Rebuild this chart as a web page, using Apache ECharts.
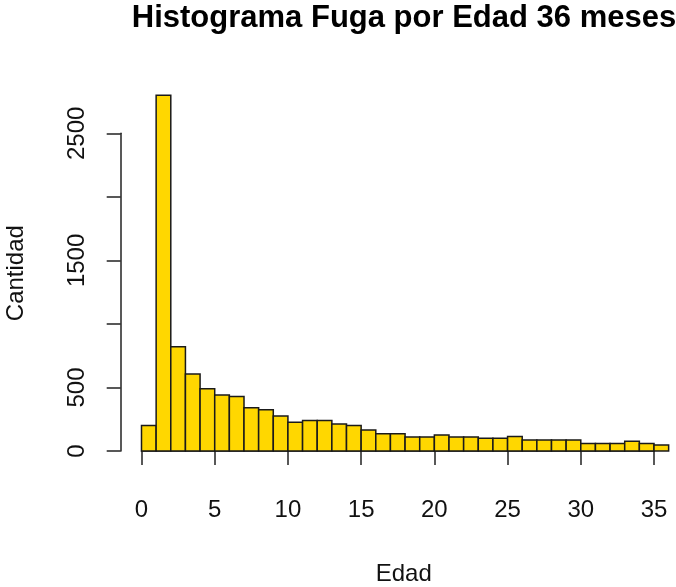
<!DOCTYPE html>
<html>
<head>
<meta charset="utf-8">
<script src="https://cdn.jsdelivr.net/npm/echarts@6/dist/echarts.min.js"></script>
<style>
  html, body { margin: 0; padding: 0; background: #fff; }
  #chart { width: 676px; height: 587px; }
</style>
</head>
<body>
<div id="chart"></div>
<script>
// bins de edad (meses), ancho 1
const binStart = [0, 1, 2, 3, 4, 5, 6, 7, 8, 9, 10, 11, 12, 13, 14, 15, 16, 17,
  18, 19, 20, 21, 22, 23, 24, 25, 26, 27, 28, 29, 30, 31, 32, 33, 34, 35]
const counts = [200, 2800, 820, 605, 490, 440, 428, 340, 325, 275, 226, 240, 240, 212,
  200, 165, 136, 136, 110, 110, 126, 110, 110, 100, 100, 115, 87, 87, 87, 87,
  60, 60, 60, 76, 60, 47]
const yTickLabels = ['0', '500', '1500', '2500']

const font = 'Liberation Sans, Arial, sans-serif'
const chart = echarts.init(document.getElementById('chart'))

chart.setOption({
  animation: false,
  title: {
    text: 'Histograma Fuga por Edad 36 meses',
    left: 404,
    top: 3,
    padding: 0,
    textAlign: 'center',
    textStyle: { fontFamily: font, fontSize: 31, fontWeight: 'bold', color: '#000' }
  },
  grid: { left: 141.5, right: 22, top: 133.3, bottom: 136, outerBoundsMode: 'none', containLabel: false },
  xAxis: {
    type: 'value',
    min: 0,
    max: 35,
    interval: 5,
    offset: 14,
    name: 'Edad',
    nameLocation: 'middle',
    nameGap: 97,
    nameTextStyle: { fontFamily: font, fontSize: 24, color: '#111', padding: [0, 0, 0, 12] },
    axisLine: { lineStyle: { color: '#222', width: 1.5 } },
    axisTick: { length: 14, lineStyle: { color: '#222', width: 1.5 } },
    axisLabel: { margin: 33, fontFamily: font, fontSize: 24, color: '#111' },
    splitLine: { show: false }
  },
  yAxis: {
    type: 'value',
    min: 0,
    max: 2500,
    interval: 500,
    offset: 20.8,
    name: 'Cantidad',
    nameLocation: 'middle',
    nameGap: 92,
    nameTextStyle: { fontFamily: font, fontSize: 24, color: '#111', padding: [0, 0, 0, 38] },
    axisLine: { show: true, onZero: false, lineStyle: { color: '#222', width: 1.5 } },
    axisTick: { show: true, length: 14, lineStyle: { color: '#222', width: 1.5 } },
    axisLabel: {
      margin: 31,
      rotate: 90,
      fontFamily: font,
      fontSize: 24,
      color: '#111',
      formatter: function (v) {
        return yTickLabels.indexOf(String(v)) >= 0 ? String(v) : ''
      }
    },
    splitLine: { show: false }
  },
  series: [
    {
      type: 'custom',
      clip: false,
      data: binStart.map((s, i) => [s, s + 1, counts[i]]),
      renderItem: function (params, api) {
        const p0 = api.coord([api.value(0), 0])
        const p1 = api.coord([api.value(1), api.value(2)])
        return {
          type: 'rect',
          shape: { x: p0[0], y: p1[1], width: p1[0] - p0[0], height: p0[1] - p1[1] },
          style: { fill: '#FFD700', stroke: '#1a1a1a', lineWidth: 1.5 }
        }
      }
    }
  ]
})
</script>
</body>
</html>
